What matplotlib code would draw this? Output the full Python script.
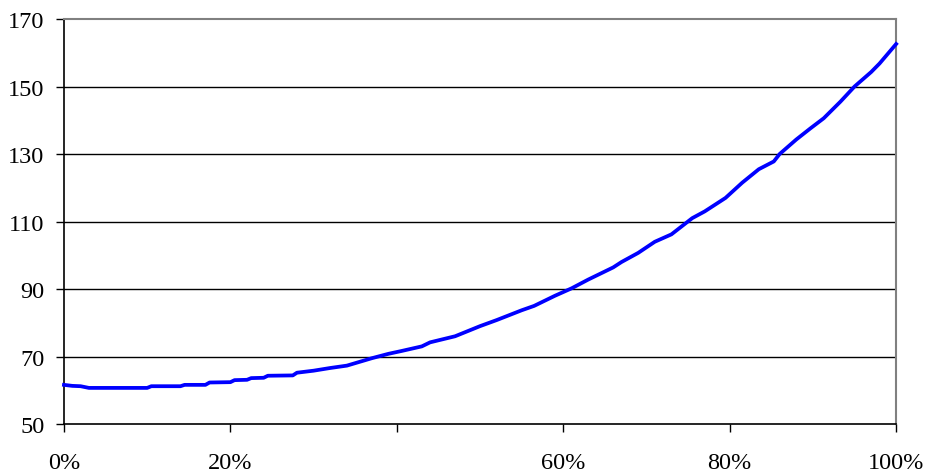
import matplotlib.pyplot as plt

pct = [0, 1, 2, 3, 10, 10.5, 14, 14.5, 17, 17.5, 20, 20.5, 22, 22.5, 24, 24.5,
       27.5, 28, 30, 32, 34, 37, 39, 40.5, 43, 44, 47, 50, 52, 55, 56.5, 59,
       61, 63, 66, 67, 69, 71, 73, 75.5, 77, 79.5, 81.5, 83.5, 85.3, 86, 88,
       89.7, 91.3, 93.3, 95, 97, 98, 100]
values = [61.6, 61.3, 61.2, 60.7, 60.7, 61.2, 61.2, 61.6, 61.6, 62.3, 62.4, 63.0,
          63.1, 63.6, 63.7, 64.3, 64.4, 65.2, 65.8, 66.6, 67.3, 69.5, 70.8, 71.6,
          73.0, 74.2, 76.0, 79.0, 80.8, 83.7, 85.0, 88.0, 90.2, 92.8, 96.4, 98.0,
          100.7, 104.0, 106.2, 111.0, 113.0, 117.0, 121.5, 125.5, 127.8, 130.0,
          134.3, 137.6, 140.6, 145.5, 150.0, 154.3, 156.8, 162.6]

xticks = [0, 20, 40, 60, 80, 100]
xtick_labels = ["0%", "20%", "", "60%", "80%", "100%"]
yticks = [50, 70, 90, 110, 130, 150, 170]

plt.rcParams['font.family'] = ['Liberation Serif', 'DejaVu Serif']

fig = plt.figure(figsize=(9.27, 4.77), dpi=100)
ax = fig.add_axes([0.069, 0.109, 0.8977, 0.849])

# horizontal grid lines between the axis limits
for y in yticks[1:-1]:
    ax.axhline(y, color="black", linewidth=1.0, zorder=1)

ax.plot(pct, values, color="#0000FF", linewidth=2.7, zorder=3, clip_on=False)

ax.set_xlim(0, 100)
ax.set_ylim(50, 170)
ax.set_xticks(xticks)
ax.set_xticklabels(xtick_labels)
ax.set_yticks(yticks)

ax.spines["top"].set_color("#808080")
ax.spines["right"].set_color("#808080")
ax.spines["top"].set_linewidth(1.5)
ax.spines["right"].set_linewidth(1.5)
ax.spines["left"].set_linewidth(1.2)
ax.spines["bottom"].set_linewidth(1.2)

ax.tick_params(axis="x", direction="out", length=6, width=1, pad=14, labelsize=17.5)
ax.tick_params(axis="y", direction="out", length=6, width=1, pad=8, labelsize=17.5)

fig.savefig("out.png", dpi=100)
